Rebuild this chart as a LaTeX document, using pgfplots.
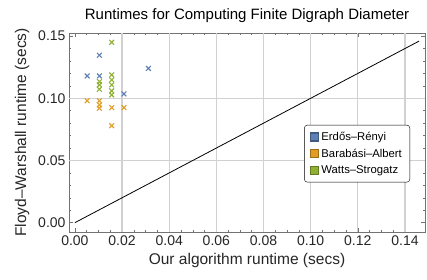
\documentclass[border=0pt]{standalone}
\usepackage{pgfplots}
\pgfplotsset{compat=1.18}
\usepackage{fontspec}
\setmainfont{Liberation Sans}
\definecolor{er}{rgb}{0.368417,0.506779,0.709798}
\definecolor{ba}{rgb}{0.880722,0.611041,0.142051}
\definecolor{ws}{rgb}{0.560181,0.691569,0.194885}
\definecolor{fr}{gray}{0.45}
\definecolor{gridgray}{rgb}{0.82,0.82,0.82}
\begin{document}
\begin{tikzpicture}
\useasboundingbox (-69pt,-48pt) rectangle (358pt,232pt);
\begin{axis}[
  at={(0pt,0pt)}, anchor=south west,
  scale only axis, width=356pt, height=199pt,
  xmin=-0.0025, xmax=0.1485, ymin=-0.0075, ymax=0.1525,
  xtick={0,0.02,...,0.14}, ytick={0,0.05,0.1,0.15},
  minor x tick num=3, minor y tick num=4,
  axis line style={fr, line width=0.6pt},
  tick style={fr, line width=0.5pt},
  major tick length=4pt, minor tick length=2pt,
  tick align=inside,
  /pgf/number format/assume math mode=true,
  /pgf/number format/fixed, /pgf/number format/fixed zerofill,
  /pgf/number format/precision=2,
  scaled ticks=false,
  tick label style={font=\fontsize{14}{16}\selectfont, text=black!85},
  xlabel={Our algorithm runtime (secs)},
  ylabel={Floyd–Warshall runtime (secs)},
  label style={font=\fontsize{15.5}{17}\selectfont, text=black!85},
  xlabel style={yshift=-1pt},
  ylabel style={yshift=2pt},
  title={Runtimes for Computing Finite Digraph Diameter},
  title style={font=\fontsize{15}{17}\selectfont, yshift=1pt},
  legend style={at={(0.958,0.538)}, anchor=north east, rounded corners=3pt,
    font=\fontsize{11.3}{13}\selectfont, draw=black, row sep=3pt,
    inner xsep=6pt, inner ysep=5pt},
  legend cell align=left,
]
\addplot[color=gridgray, line width=1.2pt, forget plot] coordinates {(0.02,-0.0075) (0.02,0.1525)};
\addplot[color=gridgray, line width=1.2pt, forget plot] coordinates {(0.04,-0.0075) (0.04,0.1525)};
\addplot[color=gridgray, line width=1.2pt, forget plot] coordinates {(0.06,-0.0075) (0.06,0.1525)};
\addplot[color=gridgray, line width=1.2pt, forget plot] coordinates {(0.08,-0.0075) (0.08,0.1525)};
\addplot[color=gridgray, line width=1.2pt, forget plot] coordinates {(0.10,-0.0075) (0.10,0.1525)};
\addplot[color=gridgray, line width=1.2pt, forget plot] coordinates {(0.12,-0.0075) (0.12,0.1525)};
\addplot[color=gridgray, line width=1.2pt, forget plot] coordinates {(0.14,-0.0075) (0.14,0.1525)};
\addplot[color=gridgray, line width=1.2pt, forget plot] coordinates {(-0.0025,0.05) (0.1485,0.05)};
\addplot[color=gridgray, line width=1.2pt, forget plot] coordinates {(-0.0025,0.10) (0.1485,0.10)};
\addplot[er, only marks, mark=x, mark size=3.4pt, line width=1.1pt,
  legend image code/.code={\draw[sharp corners, draw=er!70!black, fill=er] (0pt,-4pt) rectangle (8pt,4pt);}]
  coordinates {(0.0052,0.118) (0.0104,0.1346) (0.0104,0.118) (0.0208,0.1035) (0.0312,0.124)};
\addlegendentry{Erdős–Rényi}
\addplot[ba, only marks, mark=x, mark size=3.4pt, line width=1.1pt,
  legend image code/.code={\draw[sharp corners, draw=ba!70!black, fill=ba] (0pt,-4pt) rectangle (8pt,4pt);}]
  coordinates {(0.0052,0.098) (0.0104,0.098) (0.0104,0.0947) (0.0104,0.092) (0.0156,0.0925) (0.0208,0.0925) (0.0156,0.078)};
\addlegendentry{Barabási–Albert}
\addplot[ws, only marks, mark=x, mark size=3.4pt, line width=1.1pt,
  legend image code/.code={\draw[sharp corners, draw=ws!70!black, fill=ws] (0pt,-4pt) rectangle (8pt,4pt);}]
  coordinates {(0.0156,0.145) (0.0104,0.1134) (0.0104,0.1108) (0.0104,0.1073) (0.0156,0.1188) (0.0156,0.1148) (0.0156,0.1108) (0.0156,0.106) (0.0156,0.1027)};
\addlegendentry{Watts–Strogatz}
\addplot[black, line width=0.8pt, forget plot] coordinates {(0,0) (0.146,0.146)};
\end{axis}
\end{tikzpicture}
\end{document}
